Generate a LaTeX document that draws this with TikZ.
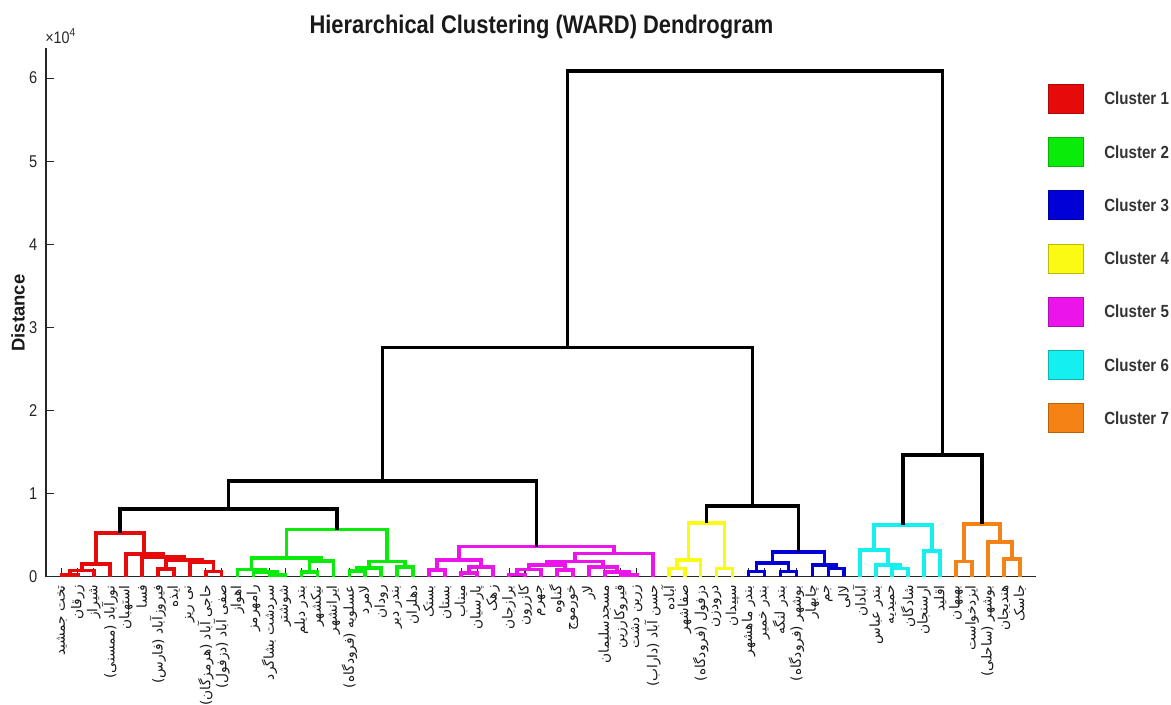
\documentclass[tikz,border=0pt]{standalone}
\usepackage{fontspec}
\setmainfont{Liberation Sans}
\newfontfamily\persianfont[Script=Arabic]{DejaVu Sans}
\TeXXeTstate=1

\definecolor{clone}{RGB}{230,10,10}
\definecolor{cltwo}{RGB}{10,235,10}
\definecolor{clthree}{RGB}{0,0,215}
\definecolor{clfour}{RGB}{250,250,20}
\definecolor{clfive}{RGB}{235,20,235}
\definecolor{clsix}{RGB}{20,240,240}
\definecolor{clseven}{RGB}{245,130,20}

% one link of the tree: style, left x, left h, right x, right h, merge h
\newcommand{\dlink}[6]{\draw[#1] (#2,#3) -- (#2,#6) -- (#4,#6) -- (#4,#5);}

\begin{document}
\begin{tikzpicture}[x=0.02cm, y=-0.02cm,
  axisline/.style={draw=black!85, line width=0.6pt},
  ticklabel/.style={text=black!85, font=\fontsize{9.7}{11}\selectfont, xscale=0.86, inner sep=0pt},
  leaflabel/.style={text=black!90, font=\fontsize{7.8}{9}\persianfont, rotate=90, anchor=east, inner sep=0pt},
  legendtext/.style={text=black!80, font=\bfseries\fontsize{10}{12}\selectfont, xscale=0.86, anchor=west, inner sep=0pt},
  lk/.style={line width=2.1pt, black},
  cone/.style={line width=2.1pt, clone},
  ctwo/.style={line width=2.1pt, cltwo},
  cthree/.style={line width=2.1pt, clthree},
  cfour/.style={line width=2.1pt, clfour},
  cfive/.style={line width=2.1pt, clfive},
  csix/.style={line width=2.1pt, clsix},
  cseven/.style={line width=2.1pt, clseven}]
\useasboundingbox (0,0) rectangle (1171,704);

\node[font=\bfseries\fontsize{14.5}{16}\selectfont, xscale=0.86, anchor=base, text=black!90] (title) at (541.5,33.5) {Hierarchical Clustering (WARD) Dendrogram};
\node[font=\bfseries\fontsize{10.5}{12}\selectfont, rotate=90, text=black!90] (ylab) at (18,313) {Distance};
\node[ticklabel, anchor=base west] (expo) at (45,43) {\fontsize{9.5}{10}\selectfont ×10\textsuperscript{4}};

% legend
\foreach \k/\c in {1/clone,2/cltwo,3/clthree,4/clfour,5/clfive,6/clsix,7/clseven} {
  \filldraw[fill=\c, draw=\c!75!black, line width=0.4pt] (1048,{84+53.3*(\k-1)}) rectangle (1083,{113+53.3*(\k-1)});
  \node[legendtext] (leg\k) at (1104,{98.5+53.3*(\k-1)}) {Cluster \k};
}

\begin{scope}[xshift=0.92cm, yshift=-11.54cm, x=0.3194cm, y=1.663cm]
% axes
\draw[axisline] (0,6.36) -- (0,0) -- (62,0);
\foreach \k in {0,...,6} {
  \draw[axisline] (0,\k) -- ++(0.17cm,0);
  \node[ticklabel, anchor=east] (yt\k) at ([xshift=-0.17cm]0,\k) {\k};
}
\foreach \i in {1,...,61}
  \draw[axisline] (\i,0) -- ++(0,0.18cm);

% cluster 1
\dlink{cone}{1}{0}{2}{0}{0.02}
\dlink{cone}{1.5}{0.02}{3}{0}{0.076}
\dlink{cone}{2.25}{0.076}{4}{0}{0.156}
\dlink{cone}{10}{0}{11}{0}{0.064}
\dlink{cone}{9}{0}{10.5}{0.064}{0.18}
\dlink{cone}{7}{0}{8}{0}{0.096}
\dlink{cone}{7.5}{0.096}{9.75}{0.18}{0.20}
\dlink{cone}{6}{0}{8.625}{0.20}{0.236}
\dlink{cone}{5}{0}{7.3125}{0.236}{0.276}
\dlink{cone}{3.125}{0.156}{6.15625}{0.276}{0.53}
% cluster 2
\dlink{ctwo}{14}{0}{15}{0}{0.02}
\dlink{ctwo}{13}{0}{14.5}{0.02}{0.06}
\dlink{ctwo}{12}{0}{13.75}{0.06}{0.09}
\dlink{ctwo}{16}{0}{17}{0}{0.06}
\dlink{ctwo}{16.5}{0.06}{18}{0}{0.19}
\dlink{ctwo}{12.875}{0.09}{17.25}{0.19}{0.225}
\dlink{ctwo}{19}{0}{20}{0}{0.07}
\dlink{ctwo}{19.5}{0.07}{21}{0}{0.11}
\dlink{ctwo}{22}{0}{23}{0}{0.12}
\dlink{ctwo}{20.25}{0.11}{22.5}{0.12}{0.185}
\dlink{ctwo}{15.0625}{0.225}{21.375}{0.185}{0.57}
% cluster 5
\dlink{cfive}{24}{0}{25}{0}{0.08}
\dlink{cfive}{26}{0}{27}{0}{0.05}
\dlink{cfive}{26.5}{0.05}{28}{0}{0.12}
\dlink{cfive}{24.5}{0.08}{27.25}{0.12}{0.2}
\dlink{cfive}{29}{0}{30}{0}{0.03}
\dlink{cfive}{29.5}{0.03}{31}{0}{0.09}
\dlink{cfive}{32}{0}{33}{0}{0.08}
\dlink{cfive}{30.25}{0.09}{32.5}{0.08}{0.145}
\dlink{cfive}{36}{0}{37}{0}{0.02}
\dlink{cfive}{35}{0}{36.5}{0.02}{0.06}
\dlink{cfive}{34}{0}{35.75}{0.06}{0.12}
\dlink{cfive}{31.375}{0.145}{34.875}{0.12}{0.185}
\dlink{cfive}{33.125}{0.185}{38}{0}{0.28}
\dlink{cfive}{25.875}{0.2}{35.5625}{0.28}{0.364}
% cluster 4
\dlink{cfour}{39}{0}{40}{0}{0.1}
\dlink{cfour}{39.5}{0.1}{41}{0}{0.2}
\dlink{cfour}{42}{0}{43}{0}{0.1}
\dlink{cfour}{40.25}{0.2}{42.5}{0.1}{0.65}
% cluster 3
\dlink{cthree}{44}{0}{45}{0}{0.064}
\dlink{cthree}{46}{0}{47}{0}{0.064}
\dlink{cthree}{44.5}{0.064}{46.5}{0.064}{0.17}
\dlink{cthree}{49}{0}{50}{0}{0.1}
\dlink{cthree}{48}{0}{49.5}{0.1}{0.145}
\dlink{cthree}{45.5}{0.17}{48.75}{0.145}{0.3}
% cluster 6
\dlink{csix}{53}{0}{54}{0}{0.1}
\dlink{csix}{52}{0}{53.5}{0.1}{0.145}
\dlink{csix}{51}{0}{52.75}{0.145}{0.32}
\dlink{csix}{55}{0}{56}{0}{0.31}
\dlink{csix}{51.875}{0.32}{55.5}{0.31}{0.625}
% cluster 7
\dlink{cseven}{57}{0}{58}{0}{0.185}
\dlink{cseven}{60}{0}{61}{0}{0.215}
\dlink{cseven}{59}{0}{60.5}{0.215}{0.42}
\dlink{cseven}{57.5}{0.185}{59.75}{0.42}{0.64}
% upper links
\dlink{lk}{4.640625}{0.53}{18.21875}{0.57}{0.82}
\dlink{lk}{11.4296875}{0.82}{30.71875}{0.364}{1.155}
\dlink{lk}{41.375}{0.65}{47.125}{0.3}{0.855}
\dlink{lk}{21.07421875}{1.155}{44.25}{0.855}{2.76}
\dlink{lk}{53.6875}{0.625}{58.625}{0.64}{1.467}
\dlink{lk}{32.662109375}{2.76}{56.15625}{1.467}{6.085}

% station names
\foreach \name [count=\i] in {تخت جمشید, زرقان, شیراز, نورآباد (ممسنی), استهبان, فسا, فیروزآباد (فارس), ایذه, نی ریز, حاجی آباد (هرمزگان), صفی آباد (دزفول),
  اهواز, رامهرمز, سردشت بشاگرد, شوشتر, بندر دیلم, نیکشهر, ایرانشهر, عسلویه (فرودگاه), لامرد, رودان, بندر دیر, دهلران,
  بستک, بستان, میناب, پارسیان, زهک, برازجان, کازرون, جهرم, گناوه, خورموج, لار, مسجدسلیمان, قیروکارزین, زرین دشت, حسن آباد (داراب),
  آباده, صفاشهر, دزفول (فرودگاه), درودزن, سپیدان,
  بندر ماهشهر, بندر خمیر, بندر لنگه, بوشهر (فرودگاه), چابهار, جم, لالی,
  آبادان, بندر عباس, حمیدیه, شادگان, ارسنجان, اقلید,
  بهبهان, ایزدخواست, بوشهر (ساحلی), هندیجان, جاسک}
  \node[leaflabel] (st\i) at (\i,-0.096) {\beginR\name\endR};
\end{scope}
\end{tikzpicture}
\end{document}
